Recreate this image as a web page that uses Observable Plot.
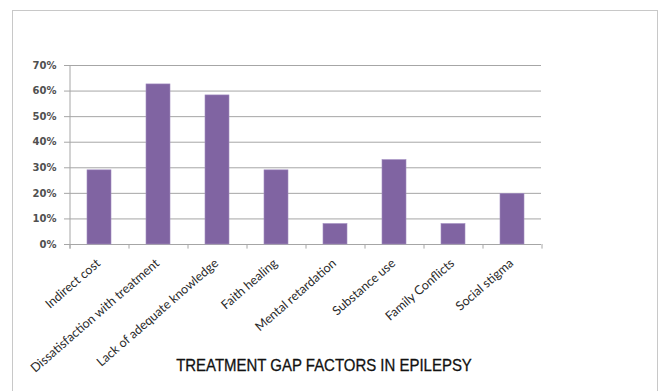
<!DOCTYPE html>
<html><head><meta charset="utf-8">
<script src="https://cdn.jsdelivr.net/npm/d3@7"></script>
<script src="https://cdn.jsdelivr.net/npm/@observablehq/plot@0.6"></script>
<style>
body{margin:0;background:#fff;}
#wrap{position:relative;width:664px;height:391px;overflow:hidden;background:#fff;}
#border{position:absolute;left:12px;top:10px;width:646px;height:420px;border:1px solid #c8c8c8;box-sizing:border-box;}
#chart{position:absolute;left:0;top:0;}
#title{position:absolute;left:124px;top:356px;width:400px;text-align:center;font-family:"Liberation Sans",sans-serif;font-size:17px;color:#111;white-space:nowrap;transform:scaleX(0.88);transform-origin:center;-webkit-text-stroke:0.3px #111;}
</style>
</head><body>
<div id="wrap"><div id="border"></div><div id="chart"></div><div id="title"></div></div>
<script>
const categories = ["Indirect cost","Dissatisfaction with treatment","Lack of adequate knowledge","Faith healing","Mental retardation","Substance use","Family Conflicts","Social stigma"];
const values = [0.29, 0.626, 0.583, 0.29, 0.08, 0.33, 0.08, 0.198];
const yTicks = [0,0.1,0.2,0.3,0.4,0.5,0.6,0.7];
const titleText = "TREATMENT GAP FACTORS IN EPILEPSY";

const data = categories.map((c,i)=>({category:c, value:values[i]}));
const W = 664, H = 391, ML = 69, MR = 123, MT = 65, MB = 147;
const half = (W-ML-MR)/categories.length/2;

const chart = Plot.plot({
  width: W, height: H,
  marginLeft: ML, marginRight: MR, marginTop: MT, marginBottom: MB,
  style: {background:"transparent", overflow:"visible"},
  x: {domain: categories, paddingInner: 0.6, paddingOuter: 0.3, label: null},
  y: {domain: [0,0.7], label: null},
  marks: [
    Plot.gridY(yTicks, {stroke:"#a6a6a6", strokeOpacity:1, strokeWidth:1}),
    Plot.barY(data, {x:"category", y:"value", fill:"#8064A2", stroke:"#a08cc0", strokeWidth:0.6}),
    Plot.ruleX(categories, {x:d=>d, dx:-half, y1:0, y2:-0.018, stroke:"#a6a6a6"}),
    Plot.ruleX(categories.slice(-1), {x:d=>d, dx:half, y1:0, y2:-0.018, stroke:"#a6a6a6"}),
    Plot.ruleX(categories.slice(0,1), {x:d=>d, dx:-half, y1:-0.018, y2:0.7, stroke:"#a6a6a6"}),
    Plot.axisY(yTicks, {tickFormat: d3.format(".0%"), tickSize:5, tickPadding:8, stroke:"#a6a6a6", fill:"#505050", fontSize:10, fontFamily:"DejaVu Sans", fontWeight:"bold"}),
    Plot.axisX({tickSize:0, tickRotate:-41, tickPadding:17, dx:-1, fill:"#2a2a2a", fontSize:12.5, fontFamily:"Lato, sans-serif"})
  ]
});
document.getElementById("chart").appendChild(chart);
document.getElementById("title").textContent = titleText;
</script>
</body></html>
